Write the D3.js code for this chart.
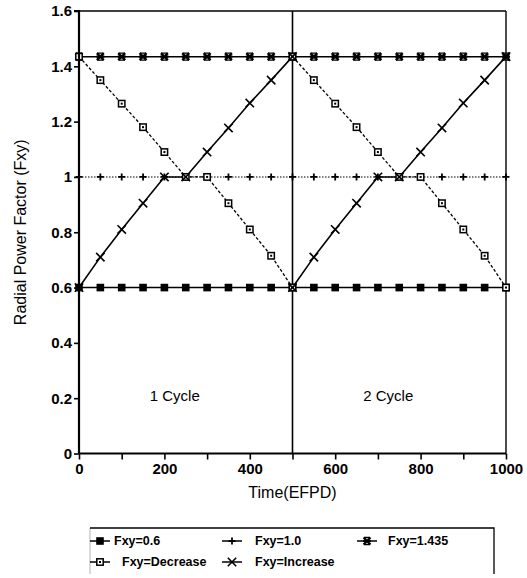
<!DOCTYPE html>
<html><head><meta charset="utf-8">
<script src="https://cdn.jsdelivr.net/npm/d3@7"></script>
<style>
html,body{margin:0;padding:0;background:#fff;}
svg{display:block;}
</style></head>
<body><svg id="chart" width="527" height="578"></svg>
<script>
// ---- data ----
const timeAll = [0,50,100,150,200,250,300,350,400,450,500,550,600,650,700,750,800,850,900,950,1000];
const timeCycle1 = [0,50,100,150,200,250,300,350,400,450,500];
const timeCycle2 = [500,550,600,650,700,750,800,850,900,950,1000];
const fxy06 = [0.6,0.6,0.6,0.6,0.6,0.6,0.6,0.6,0.6,0.6,0.6,0.6,0.6,0.6,0.6,0.6,0.6,0.6,0.6,0.6,0.6];
const fxy10 = [1,1,1,1,1,1,1,1,1,1,1,1,1,1,1,1,1,1,1,1,1];
const fxy1435 = [1.435,1.435,1.435,1.435,1.435,1.435,1.435,1.435,1.435,1.435,1.435,1.435,1.435,1.435,1.435,1.435,1.435,1.435,1.435,1.435,1.435];
const decreaseC1 = [1.435,1.35,1.265,1.18,1.09,1.0,1.0,0.905,0.81,0.715,0.6];
const decreaseC2 = [1.435,1.35,1.265,1.18,1.09,1.0,1.0,0.905,0.81,0.715,0.6];
const increaseC1 = [0.6,0.71,0.81,0.905,1.0,1.0,1.09,1.177,1.267,1.35,1.435];
const increaseC2 = [0.6,0.71,0.81,0.905,1.0,1.0,1.09,1.177,1.267,1.35,1.435];
const yTickValues = [0,0.2,0.4,0.6,0.8,1,1.2,1.4,1.6];
const yTickLabels = ["0","0.2","0.4","0.6","0.8","1","1.2","1.4","1.6"];
const xTickValues = [0,100,200,300,400,500,600,700,800,900,1000];
const xTickLabels = ["0","","200","","400","","600","","800","","1000"];
const cycleLabels = ["1 Cycle","2 Cycle"];
const cycleCenters = [250,750];
const seriesNames = ["Fxy=0.6","Fxy=1.0","Fxy=1.435","Fxy=Decrease","Fxy=Increase"];
const xTitle = "Time(EFPD)";
const yTitle = "Radial Power Factor (Fxy)";

// ---- layout ----
const svg = d3.select("#chart");
const L = 79, R = 506, T = 11, B = 453.5;
const x = d3.scaleLinear().domain([0,1000]).range([L,R]);
const y = d3.scaleLinear().domain([0,1.6]).range([B,T]);
const font = "'Liberation Sans', Arial, Helvetica, sans-serif";

// frame: top, right, divider
const g = svg.append("g");
g.append("line").attr("x1",x(0)).attr("x2",x(1000)).attr("y1",y(1.6)).attr("y2",y(1.6)).attr("stroke","#000").attr("stroke-width",1.4);
g.append("line").attr("x1",x(1000)).attr("x2",x(1000)).attr("y1",y(0)).attr("y2",y(1.6)).attr("stroke","#000").attr("stroke-width",1.4);
g.append("line").attr("x1",x(500)).attr("x2",x(500)).attr("y1",y(0)).attr("y2",y(1.6)).attr("stroke","#000").attr("stroke-width",1.6);

// markers
function marker(sel, type){
  if(type==="sq"){
    sel.append("rect").attr("x",-3.8).attr("y",-3.8).attr("width",7.6).attr("height",7.6).attr("fill","#000");
  } else if(type==="plus"){
    sel.append("path").attr("d","M-3.5,0H3.5M0,-3.5V3.5").attr("stroke","#000").attr("stroke-width",1.8).attr("fill","none");
  } else if(type==="ast"){
    sel.append("path").attr("d","M-3.5,-3.5L3.5,3.5M-3.5,3.5L3.5,-3.5M-4,0H4").attr("stroke","#000").attr("stroke-width",2.2).attr("fill","none");
    sel.append("path").attr("d","M-3,-3.5H3M-3,3.5H3").attr("stroke","#000").attr("stroke-width",1.4).attr("fill","none");
  } else if(type==="osq"){
    sel.append("rect").attr("x",-3.2).attr("y",-3.2).attr("width",6.4).attr("height",6.4).attr("fill","#fff").attr("stroke","#000").attr("stroke-width",1.5);
    sel.append("rect").attr("x",-1).attr("y",-1).attr("width",2).attr("height",2).attr("fill","#000");
  } else if(type==="x"){
    sel.append("path").attr("d","M-4.2,-4.2L4.2,4.2M-4.2,4.2L4.2,-4.2").attr("stroke","#000").attr("stroke-width",1.6).attr("fill","none");
  }
}

const line = d3.line().x(d=>x(d[0])).y(d=>y(d[1]));
function drawSeries(xs, ys, type, dash, width){
  const pts = xs.map((t,i)=>[t, ys[i]]);
  g.append("path").datum(pts).attr("d",line).attr("fill","none").attr("stroke","#000")
    .attr("stroke-width",width).attr("stroke-dasharray",dash);
  return pts;
}
const all = [];
all.push([drawSeries(timeAll, fxy10, "plus", "1.5,1.5", 1.1), "plus"]);
all.push([drawSeries(timeAll, fxy06, "sq", null, 1.6), "sq"]);
all.push([drawSeries(timeAll, fxy1435, "ast", null, 1.5), "ast"]);
all.push([drawSeries(timeCycle1, decreaseC1, "osq", "3,2", 1.3), "osq"]);
all.push([drawSeries(timeCycle2, decreaseC2, "osq", "3,2", 1.3), "osq"]);
all.push([drawSeries(timeCycle1, increaseC1, "x", null, 1.6), "x"]);
all.push([drawSeries(timeCycle2, increaseC2, "x", null, 1.6), "x"]);
all.forEach(([pts,type])=>{
  pts.forEach(p=>{
    const m = g.append("g").attr("transform",`translate(${x(p[0])},${y(p[1])})`);
    marker(m,type);
  });
});

// axes
const yAxis = d3.axisLeft(y).tickValues(yTickValues).tickFormat((d,i)=>yTickLabels[i]).tickSize(5).tickPadding(2);
const ya = svg.append("g").attr("transform",`translate(${L},0)`).call(yAxis);
ya.select(".domain").attr("stroke-width",2.2).attr("d",`M-5,${y(1.6)}H0V${y(0)}`);
ya.selectAll(".tick line").attr("stroke-width",1.6);
ya.selectAll("text").attr("font-family",font).attr("font-weight","bold").attr("font-size",15).attr("fill","#000");

const xAxis = d3.axisBottom(x).tickValues(xTickValues).tickFormat((d,i)=>xTickLabels[i]).tickSize(6).tickPadding(4);
const xa = svg.append("g").attr("transform",`translate(0,${B})`).call(xAxis);
xa.select(".domain").attr("stroke-width",2.2).attr("d",`M${x(0)},0H${x(1000)}`);
xa.selectAll(".tick line").attr("stroke-width",1.6);
xa.selectAll("text").attr("font-family",font).attr("font-weight","bold").attr("font-size",15).attr("fill","#000");

// titles
svg.append("text").attr("x",x(500)).attr("y",498).attr("text-anchor","middle")
  .attr("font-family",font).attr("font-size",16).text(xTitle);
svg.append("text").attr("transform",`translate(26,${(T+B)/2}) rotate(-90)`).attr("text-anchor","middle")
  .attr("font-family",font).attr("font-size",16).text(yTitle);

// cycle labels
cycleLabels.forEach((t,i)=>{
  svg.append("text").attr("x",x(cycleCenters[i])-11).attr("y",401).attr("text-anchor","middle")
    .attr("font-family",font).attr("font-size",15).text(t);
});

// legend
const lg = svg.append("g");
lg.append("path").attr("d","M90,528H494V574").attr("fill","none").attr("stroke","#000").attr("stroke-width",1.3);
lg.append("path").attr("d","M90,528V574").attr("fill","none").attr("stroke","#000").attr("stroke-width",0.6).attr("stroke-opacity",0.5);
const legendTypes = ["sq","plus","ast","osq","x"];
const legendSym = [[100,541],[232,541],[367,541],[100,562],[232,562]];
const legendText = [[114,541],[255,541],[388,541],[122,562],[255,562]];
seriesNames.forEach((n,i)=>{
  const [sx,sy] = legendSym[i];
  lg.append("line").attr("x1",sx-10).attr("x2",sx+10).attr("y1",sy).attr("y2",sy).attr("stroke","#000").attr("stroke-width",1.5);
  const m = lg.append("g").attr("transform",`translate(${sx},${sy})`);
  marker(m, legendTypes[i]);
  lg.append("text").attr("x",legendText[i][0]).attr("y",legendText[i][1]).attr("dy","0.35em")
    .attr("font-family",font).attr("font-weight","bold").attr("font-size",12.5).text(n);
});
</script>
</body></html>
